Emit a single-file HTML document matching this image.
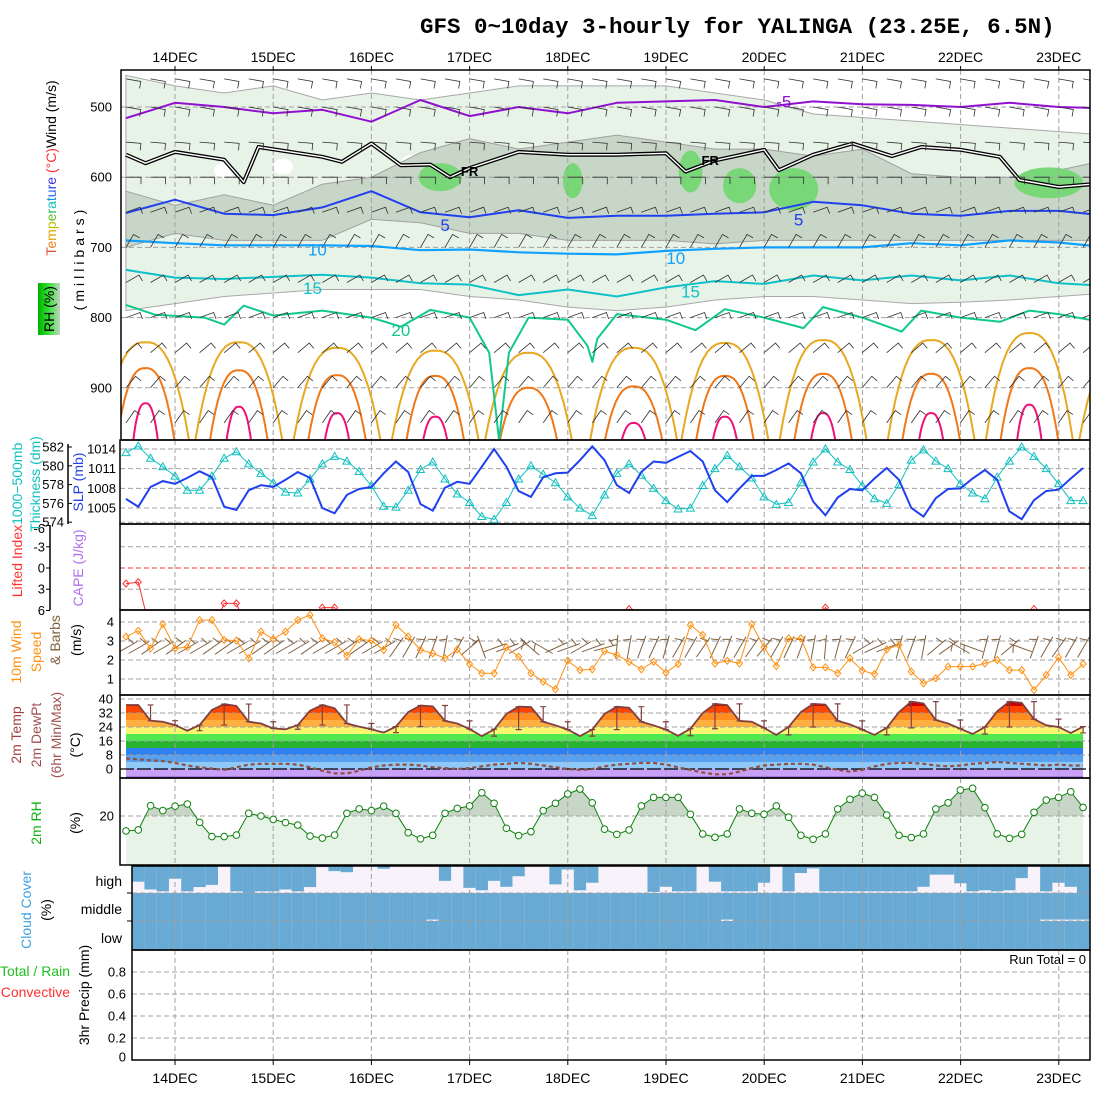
<!DOCTYPE html>
<html><head><meta charset="utf-8"><title>GFS meteogram YALINGA</title>
<style>
html,body{margin:0;padding:0;background:#fff;}
svg{display:block;font-family:"Liberation Sans",sans-serif;}
.tk{font-size:13px;fill:#000;}
.lab{font-size:14px;}
</style></head>
<body>
<svg id="chart" width="1100" height="1100" viewBox="0 0 1100 1100" xmlns="http://www.w3.org/2000/svg">
<defs>
<clipPath id="clipTop"><rect x="121" y="70" width="969" height="370"/></clipPath>
<clipPath id="clipSlp"><rect x="120" y="440" width="970" height="84"/></clipPath>
<clipPath id="clipLi"><rect x="120" y="524" width="970" height="86"/></clipPath>
<clipPath id="clipWind"><rect x="120" y="610" width="970" height="85"/></clipPath>
<clipPath id="clipCloud"><rect x="132" y="866" width="958" height="84"/></clipPath>
<clipPath id="clipTempArea"><path id="tempAreaPath" d=""/></clipPath>
<clipPath id="clipRh20"><rect x="120" y="780" width="970" height="36"/></clipPath>
<linearGradient id="rhGrad" x1="0" x2="1" y1="0" y2="0"><stop offset="0" stop-color="#00b000"/><stop offset="0.45" stop-color="#30e030"/><stop offset="1" stop-color="#c0d4c0"/></linearGradient>
</defs>
<rect x="0" y="0" width="1100" height="1100" fill="#fff"/>
<text x="420" y="33" style="font-family:'Liberation Mono',monospace;font-weight:bold;font-size:22.5px" fill="#000">GFS 0~10day 3-hourly for YALINGA (23.25E, 6.5N)</text>

<g id="gTop"></g>
<g id="gSlp"></g>
<g id="gLi"></g>
<g id="gWind"></g>
<g id="gTemp"></g>
<g id="gRh"></g>
<g id="gCloud"></g>
<g id="gPrecip"></g>
<g id="gDates"></g>

<g>
<text class="lab" transform="translate(56,168) rotate(-90)" text-anchor="middle"><tspan fill="#e05030">T</tspan><tspan fill="#f08020">e</tspan><tspan fill="#e0a000">m</tspan><tspan fill="#c0c000">p</tspan><tspan fill="#60c020">e</tspan><tspan fill="#20c060">r</tspan><tspan fill="#10c0c0">a</tspan><tspan fill="#1090e0">t</tspan><tspan fill="#2060f0">u</tspan><tspan fill="#3040f0">r</tspan><tspan fill="#4030e0">e</tspan><tspan fill="#ff3030"> (°C)</tspan><tspan fill="#000">Wind (m/s)</tspan></text>
<text class="lab" transform="translate(84,258) rotate(-90)" text-anchor="middle" fill="#000" letter-spacing="4">(millibars)</text>
<rect x="38" y="283" width="22" height="52" fill="url(#rhGrad)"/>
<text class="lab" transform="translate(54,309) rotate(-90)" text-anchor="middle" fill="#000">RH (%)</text>
</g>
<g>
<text class="lab" transform="translate(22,520) rotate(-90)" text-anchor="middle"><tspan fill="#ff3030">Lifted Index</tspan><tspan fill="#10c0c0">1000−500mb</tspan></text>
<text class="lab" transform="translate(40,484) rotate(-90)" text-anchor="middle" fill="#10c0c0">Thickness (dm)</text>
<text class="lab" transform="translate(83,482) rotate(-90)" text-anchor="middle" fill="#2040f0">SLP (mb)</text>
<text class="lab" transform="translate(83,568) rotate(-90)" text-anchor="middle" fill="#b070f0">CAPE (J/kg)</text>
<text class="lab" transform="translate(21,652) rotate(-90)" text-anchor="middle" fill="#ff9010">10m Wind</text>
<text class="lab" transform="translate(41,652) rotate(-90)" text-anchor="middle" fill="#ff9010">Speed</text>
<text class="lab" transform="translate(60,640) rotate(-90)" text-anchor="middle" fill="#806040">&amp; Barbs</text>
<text class="lab" transform="translate(81,640) rotate(-90)" text-anchor="middle" fill="#000">(m/s)</text>
<text class="lab" transform="translate(21,735) rotate(-90)" text-anchor="middle" fill="#a04040">2m Temp</text>
<text class="lab" transform="translate(41,735) rotate(-90)" text-anchor="middle" fill="#a05050">2m DewPt</text>
<text class="lab" transform="translate(61,735) rotate(-90)" text-anchor="middle" fill="#a05050">(6hr Min/Max)</text>
<text class="lab" transform="translate(80,745) rotate(-90)" text-anchor="middle" fill="#000">(°C)</text>
<text class="lab" transform="translate(41,823) rotate(-90)" text-anchor="middle" fill="#10b010">2m RH</text>
<text class="lab" transform="translate(80,823) rotate(-90)" text-anchor="middle" fill="#000">(%)</text>
<text class="lab" transform="translate(31,910) rotate(-90)" text-anchor="middle" fill="#40a0e0">Cloud Cover</text>
<text class="lab" transform="translate(51,910) rotate(-90)" text-anchor="middle" fill="#000">(%)</text>
<text class="tk" x="122" y="886" text-anchor="end" style="font-size:14px">high</text>
<text class="tk" x="122" y="914" text-anchor="end" style="font-size:14px">middle</text>
<text class="tk" x="122" y="943" text-anchor="end" style="font-size:14px">low</text>
<text class="lab" x="70" y="976" text-anchor="end" fill="#20c020">Total / Rain</text>
<text class="lab" x="70" y="997" text-anchor="end" fill="#ff3030">Convective</text>
<text class="lab" transform="translate(89,995) rotate(-90)" text-anchor="middle" fill="#000">3hr Precip (mm)</text>
<text class="tk" x="1086" y="964" text-anchor="end">Run Total = 0</text>
</g>
</svg>

<script>
// ---------- DATA ----------
const dateLabels = ["14DEC","15DEC","16DEC","17DEC","18DEC","19DEC","20DEC","21DEC","22DEC","23DEC"];
const pressureTicks = [500,600,700,800,900];
const slpTicks = [1005,1008,1011,1014];
const thickTicks = [574,576,578,580,582];
const liTicks = [-6,-3,0,3,6];
const windTicks = [1,2,3,4];
const tempTicks = [0,8,16,24,32,40];
const rhTicks = [20];
const precipTicks = [0,0.2,0.4,0.6,0.8];

const slp = [1006.4,1005.2,1008.2,1009.1,1008.7,1009.6,1010.6,1009.7,1005.2,1004.7,1007.7,1008.5,1008.2,1009.3,1010.5,1009.6,1005.0,1004.2,1007.0,1007.9,1008.2,1010.3,1012.1,1010.5,1005.6,1004.6,1008.1,1009.0,1008.7,1011.3,1014.0,1011.3,1007.6,1006.7,1009.7,1010.3,1010.4,1012.3,1014.4,1012.3,1008.5,1007.3,1010.5,1012.1,1011.9,1012.8,1013.7,1012.1,1007.7,1005.9,1008.0,1009.9,1009.9,1010.8,1011.8,1010.3,1006.0,1003.9,1006.6,1007.9,1007.7,1009.5,1011.1,1009.3,1005.0,1003.7,1006.5,1007.9,1008.0,1009.5,1010.8,1009.3,1004.5,1003.3,1006.2,1007.6,1007.8,1009.5,1011.1];
const thickness = [581.4,582.1,580.8,579.9,578.9,577.4,577.4,578.9,580.8,581.5,580.2,579.2,578.2,577.2,577.1,578.6,580.2,581.0,580.5,579.4,577.9,575.7,575.6,577.4,579.6,580.4,578.6,577.0,576.1,574.6,574.3,576.1,578.6,580.0,579.1,578.2,576.7,575.5,574.7,576.9,579.2,580.2,579.0,577.6,576.3,575.4,575.5,577.9,579.7,581.1,579.9,578.7,576.7,575.9,576.1,578.2,580.4,581.8,580.4,579.6,577.9,576.5,576.0,578.0,580.6,581.7,580.5,579.7,578.1,577.1,576.5,578.8,580.5,582.0,581.0,579.7,578.1,576.3,576.3];
const liftedIndex = [2.2,2.0,9,9,9,9,9,9,5.0,5.0,9,9,9,9,9,9,5.6,5.6,9,9,9,9,9,9,9,9,9,9,9,9,9,9,9,9,9,9,9,9,9,9,9,5.8,9,9,9,9,9,9,9,9,9,9,9,9,9,9,9,5.6,9,9,9,9,9,9,9,9,9,9,9,9,9,9,9,9,5.8,9,9,9,9];
const windSpeed = [3.23,3.54,2.61,3.89,2.61,2.67,4.1,4.1,3.05,3.02,2.09,3.49,3.1,3.49,4.1,4.37,3.14,2.93,2.23,3.09,3.02,2.53,3.84,3.23,2.53,2.35,2.09,2.56,1.79,1.3,1.3,2.67,2.17,1.3,0.86,0.46,1.96,1.47,1.51,2.47,2.26,1.91,1.51,1.91,1.33,1.79,3.84,3.32,1.82,1.96,1.82,3.88,2.67,1.68,3.14,3.14,1.61,1.61,1.3,2.09,1.44,1.26,2.56,2.79,1.39,0.77,1.04,1.65,1.65,1.65,1.82,2.0,1.47,1.47,0.42,1.21,2.14,1.21,1.79];
const windDir10 = [-30,-30,-35,-30,-35,-30,-30,-35,-35,-30,-30,-35,-35,-30,-30,-35,-30,-30,-35,-35,-30,-30,-55,-60,-65,-70,-80,-60,-40,-110,-20,-20,-30,-140,-150,-25,-20,-30,-20,-15,-85,-80,-70,-65,-75,-60,-60,-55,-65,-70,-60,-55,-50,-60,-65,-70,-80,-85,-75,-65,-30,-25,-20,-75,-70,-80,-40,-35,-150,-160,-75,-75,-40,-160,-70,-60,-55,-60,-60];
const temp2m = [36.6,36.6,27.6,27.0,25.1,21.9,25.1,33.7,37.1,36.0,27.0,26.0,23.2,22.7,25.1,33.3,36.6,34.7,26.0,24.2,22.7,20.8,24.2,32.5,36.3,35.8,27.5,26.0,22.8,18.8,22.5,31.5,35.6,35.4,27.0,25.0,22.5,18.8,22.5,31.5,35.6,35.0,27.0,25.0,22.5,19.0,23.0,32.0,37.2,36.5,27.5,27.0,23.5,19.5,24.0,32.5,37.2,36.8,27.5,25.5,22.5,19.5,23.5,32.5,38.5,37.5,28.0,26.0,23.0,20.0,24.0,33.0,38.5,37.8,28.5,25.0,24.0,20.6,24.2];
const dewpt2m = [6,5.5,5,4.5,3.5,2,1,0.2,-0.5,1,2.5,3,3,3,2.5,1,-1,-2.5,-2.5,-1,1,2,2.5,2.5,2,1,0.5,0,0.5,1.5,2.5,3,3.5,3,2,1,0,-0.5,0,1.5,2.5,3,3.5,3.5,2.5,1,-0.5,-2,-3,-3,-1.5,0.5,2,2.5,3,3,2.5,1,-0.5,-1.5,-0.5,1.5,3,3.5,3.5,3,2,1.5,2,3,3.5,4,3.5,3,2.5,2,2.5,2,2];
const rh2m = [13.9,14.3,24.2,22.2,24.0,24.9,17.4,11.6,11.6,12.2,21.1,20.0,18.6,17.3,16.3,11.8,11.0,12.2,21.1,22.9,22.2,24.0,21.1,13.2,10.7,12.1,21.1,23.1,24.1,29.5,25.2,15,12,13.6,22.2,25.2,29,31,25.4,14.6,12.5,14.3,24.1,27.6,27.6,27.6,20.7,12.7,11.3,12.7,22.9,21.1,20.7,24.1,19.5,12.1,10.5,12.7,22.9,26.8,29.3,27.6,20.4,12.1,11.2,12.7,22.9,25.4,30.6,31.3,23.4,12.7,10.9,12.5,21.5,26.5,27.6,29.9,23.5];
const cloudHigh = [58,58,87,94,47,94,78,70,0,94,100,94,94,87,94,78,4,19,23,0,0,10,0,0,0,0,55,0,81,90,55,77,38,0,0,68,13,90,62,0,0,0,0,96,77,94,94,0,58,94,94,94,62,0,94,26,9,94,94,94,94,94,94,94,94,77,32,32,64,94,90,94,90,45,0,94,62,77,100];
const cloudMid = [100,100,100,100,100,100,100,100,100,100,100,100,100,100,100,100,100,100,100,100,100,100,100,100,100,95,100,100,100,100,100,100,100,100,100,100,100,100,100,100,100,100,100,100,100,100,100,100,100,95,100,100,100,100,100,100,100,100,100,100,100,100,100,100,100,100,100,100,100,100,100,100,100,100,100,95,95,95,95];
const cloudLow = [100,100,100,100,100,100,100,100,100,100,100,100,100,100,100,100,100,100,100,100,100,100,100,100,100,100,100,100,100,100,100,100,100,100,100,100,100,100,100,100,100,100,100,100,100,100,100,100,100,100,100,100,100,100,100,100,100,100,100,100,100,100,100,100,100,100,100,100,100,100,100,100,100,100,100,100,100,100,100];
const precip = [0,0,0,0,0,0,0,0,0,0,0,0,0,0,0,0,0,0,0,0,0,0,0,0,0,0,0,0,0,0,0,0,0,0,0,0,0,0,0,0,0,0,0,0,0,0,0,0,0,0,0,0,0,0,0,0,0,0,0,0,0,0,0,0,0,0,0,0,0,0,0,0,0,0,0,0,0,0,0];

const t12 = [-0.5,0,0.5,1,1.5,2,2.5,3,3.5,4,4.5,5,5.5,6,6.5,7,7.5,8,8.5,9,9.5];
const isoM5 = [516,494,500,509,504,521,490,513,500,509,494,492,490,500,492,496,497,500,494,500,502];
const iso0T = [-0.5,-0.3,0,0.5,0.7,0.85,1.5,1.7,2.0,2.3,2.6,2.8,3.0,3.5,4.0,4.5,5.0,5.2,5.5,6.0,6.15,6.5,6.9,7.3,7.6,8.0,8.4,8.6,9.0,9.5];
const iso0 = [568,580,564,575,607,557,571,578,552,583,582,600,587,564,568,568,566,592,576,561,590,568,552,570,557,561,571,604,614,608];
const iso5 = [651,632,652,654,643,620,650,657,647,658,655,655,652,650,635,640,652,655,648,648,655];
const iso10 = [690,694,697,697,697,698,704,703,707,709,710,705,702,700,700,700,694,697,690,693,700];
const iso15 = [732,743,745,742,739,743,751,753,768,760,770,757,748,752,740,747,740,747,740,751,755];
const iso20T = [-0.5,-0.2,0.3,0.5,0.7,1.0,1.5,2.0,2.3,2.6,3.0,3.2,3.3,3.4,3.6,4.0,4.2,4.25,4.3,4.5,5.0,5.3,5.6,6.0,6.4,6.6,7.0,7.4,7.6,8.0,8.4,8.7,9.0,9.5];
const iso20 = [782,796,800,810,783,797,790,800,813,789,800,850,975,850,800,803,840,863,830,795,803,818,788,800,815,785,800,820,790,800,806,790,795,808];
const lobeT = [-0.3,0.65,1.65,2.65,3.6,4.67,5.6,6.6,7.7,8.7,9.65];
const lobe25 = [835,835,843,847,850,843,836,832,832,822,845];
const lobe30 = [872,875,882,883,900,898,883,880,880,872,905];
const lobe35 = [922,927,936,941,990,950,941,936,936,924,990];
const rh30Top = [455,470,480,470,490,480,490,480,470,470,470,470,480,490,510,515,520,525,530,535,540];
const rh30Bot = [790,780,770,765,760,760,760,770,775,785,790,785,775,770,770,775,780,778,775,770,765];
const rh50Top = [620,640,625,640,610,600,565,545,560,550,540,550,560,560,570,560,595,600,600,590,575];
const rh50Bot = [700,680,690,690,690,660,665,680,680,690,690,690,695,690,690,690,690,690,690,690,690];
const rh70T = [2.7,4.05,5.25,5.75,6.3,8.9];
const rh70P = [600,605,592,612,617,608];
const rh70W = [0.22,0.1,0.12,0.17,0.25,0.35];
const rh70H = [20,25,30,25,30,22];
const dryT = [0.5,1.1,2.4];
const dryP = [590,585,580];
const barbLevels = [460,500,550,600,650,700,750,800,850,900,950];
const barbAngle = [10,10,5,0,-20,-60,-30,-20,-40,-50,-55];

// ---------- SCALES ----------
const NS = "http://www.w3.org/2000/svg";
const X = i => 126 + i*12.27;
const XD = d => 175 + d*98.2;
const P = p => 107 + (p-500)*0.702;
const Yslp = v => 449 + (1014-v)*6.56;
const Ythk = v => 447 + (582-v)*9.4;
const Yli = v => 568 + v*7.08;
const Ywind = v => 622 + (4-v)*19;
const Ytemp = v => 769 - v*1.75;
const Yrh = v => 865 - v*2.45;
const Ypr = v => 1060 - v*110;

function mk(tag, attrs, parent){const e=document.createElementNS(NS,tag);for(const k in attrs)e.setAttribute(k,attrs[k]);parent.appendChild(e);return e;}
function pathFrom(xs, ys){let d="";for(let i=0;i<xs.length;i++)d+=(i?"L":"M")+xs[i].toFixed(1)+","+ys[i].toFixed(1);return d;}
function seriesPath(arr, yf){return pathFrom(arr.map((v,i)=>X(i)), arr.map(yf));}

const gTop=document.getElementById('gTop'), gSlp=document.getElementById('gSlp'), gLi=document.getElementById('gLi'), gWind=document.getElementById('gWind'), gTemp=document.getElementById('gTemp'), gRh=document.getElementById('gRh'), gCloud=document.getElementById('gCloud'), gPrecip=document.getElementById('gPrecip'), gDates=document.getElementById('gDates');

function hgrid(g, y, x0, name){const l=mk('line',{x1:x0,x2:1090,y1:y,y2:y,stroke:'#a0a0a0','stroke-dasharray':'5,3','stroke-width':1},g);

}
function vgrid(g, y0, y1){for(let d=0;d<dateLabels.length;d++){const l=mk('line',{x1:XD(d),x2:XD(d),y1:y0,y2:y1,stroke:'#a0a0a0','stroke-dasharray':'5,3','stroke-width':1},g);

}}
function tickLabel(g, x, y, txt, anchor, name){const t=mk('text',{x:x,y:y+4.5,'text-anchor':anchor||'end',class:'tk'},g);t.textContent=txt;

}
function frame(g,x,y,w,h,name){const r=mk('rect',{x:x,y:y,width:w,height:h,fill:'none',stroke:'#000','stroke-width':1.5},g);

}

// ---------- TOP PANEL ----------
const cTop = mk('g',{'clip-path':'url(#clipTop)'},gTop);
function band(top, bot){const xs=t12.map(XD), a=pathFrom(xs, top.map(P)); let d=a; for(let i=bot.length-1;i>=0;i--) d+="L"+xs[i].toFixed(1)+","+P(bot[i]).toFixed(1); return d+"Z";}
const pale = mk('path',{d:band(rh30Top,rh30Bot),fill:'#e8f3e8',stroke:'#a8a8a8','stroke-width':1},cTop);


for(let k=0;k<dryT.length;k++){const e=mk('ellipse',{cx:XD(dryT[k]),cy:P(dryP[k]),rx:10,ry:8,fill:'#fff'},cTop);

}
const dark = mk('path',{d:band(rh50Top,rh50Bot),fill:'#c8d6c8',stroke:'#a0a0a0','stroke-width':1},cTop);


for(let k=0;k<rh70T.length;k++){const e=mk('ellipse',{cx:XD(rh70T[k]),cy:P(rh70P[k]),rx:rh70W[k]*98.2,ry:rh70H[k]*0.702,fill:'#78d878'},cTop);

}
pressureTicks.forEach(p=>hgrid(cTop,P(p),121,'pressure-gridline'));
vgrid(cTop,70,440);
function iso(ts, ps, color, w, name){const pth=mk('path',{d:pathFrom(ts.map(XD),ps.map(P)),fill:'none',stroke:color,'stroke-width':w,'stroke-linejoin':'round'},cTop);

return pth;}
function lobes(tops, hw, color, name){for(let k=0;k<lobeT.length;k++){if(tops[k]>975)continue;const xs=[],ys=[];for(let u=-1;u<=1.001;u+=0.1){xs.push(XD(lobeT[k]+u*hw));ys.push(P(tops[k]+(980-tops[k])*Math.pow(Math.abs(u),2.6)));}
const pth=mk('path',{d:pathFrom(xs,ys),fill:'none',stroke:color,'stroke-width':2},cTop);

}}
lobes(lobe25,0.45,'#e8a820','isotherm-25');
lobes(lobe30,0.3,'#f07818','isotherm-30');
lobes(lobe35,0.13,'#f0107a','isotherm-35');
iso(t12,isoM5,'#9010d0',2,'isotherm-minus5');
iso(iso0T,iso0,'#000',4,'freezing-level');
iso(iso0T,iso0,'#fff',1.4,'freezing-level-inner');
iso(t12,iso5,'#2040f0',2,'isotherm-5');
iso(t12,iso10,'#10a0ff',2.2,'isotherm-10');
iso(t12,iso15,'#10c0c8',2,'isotherm-15');
iso(iso20T,iso20,'#10c890',2,'isotherm-20');
for(let l=0;l<barbLevels.length;l++){for(let i=0;i<79;i+=2){const x=X(i),y=P(barbLevels[l]);const a=barbAngle[l]*Math.PI/180;const x2=x+15*Math.cos(a),y2=y+15*Math.sin(a);const b=a+Math.PI/2;
const s=mk('path',{d:`M${x.toFixed(1)},${y.toFixed(1)}L${x2.toFixed(1)},${y2.toFixed(1)}L${(x2+7*Math.cos(b)).toFixed(1)},${(y2+7*Math.sin(b)).toFixed(1)}`,fill:'none',stroke:'#303030','stroke-width':0.8},cTop);

}}
const isoLabels=[["-5",6.2,492,'#9010d0'],["FR",3.0,590,'#000'],["FR",5.45,574,'#000'],["5",2.75,668,'#2040f0'],["5",6.35,660,'#2040f0'],["10",1.45,703,'#10a0ff'],["10",5.1,715,'#10a0ff'],["15",1.4,758,'#10c0c8'],["15",5.25,763,'#10c0c8'],["20",2.3,818,'#10c890']];
isoLabels.forEach(L=>{const t=mk('text',{x:XD(L[1]),y:P(L[2])+6,'text-anchor':'middle',fill:L[3],style:'font-size:'+(L[0]==='FR'?'13px;font-weight:bold':'17px')},cTop);t.textContent=L[0];

});
pressureTicks.forEach(p=>tickLabel(gTop,112,P(p),String(p),'end','pressure-tick-label'));
frame(gTop,121,70,969,370,'upper-air-frame');

// ---------- SLP / THICKNESS ----------
slpTicks.forEach(v=>hgrid(gSlp,Yslp(v),120,'slp-gridline'));
hgrid(gSlp,Ythk(574),120,'thickness-gridline');
vgrid(gSlp,440,524);
const cS=mk('g',{'clip-path':'url(#clipSlp)'},gSlp);
const thk=mk('path',{d:seriesPath(thickness,Ythk),fill:'none',stroke:'#10c0c0','stroke-width':1},cS);


thickness.forEach((v,i)=>{const x=X(i),y=Ythk(v);const m=mk('path',{d:`M${x},${y-4}L${x+4},${y+3}L${x-4},${y+3}Z`,fill:'none',stroke:'#10c0c0'},cS);

});
const sl=mk('path',{d:seriesPath(slp,Yslp),fill:'none',stroke:'#2040f0','stroke-width':2},cS);


slpTicks.forEach(v=>tickLabel(gSlp,116,Yslp(v),String(v),'end','slp-tick-label'));
thickTicks.forEach(v=>{tickLabel(gSlp,64,Ythk(v),String(v),'end','thickness-tick-label');const t=mk('line',{x1:68,x2:72,y1:Ythk(v),y2:Ythk(v),stroke:'#000'},gSlp);

});
const ta=mk('line',{x1:68,x2:68,y1:444,y2:524,stroke:'#000','stroke-width':1.5},gSlp);


frame(gSlp,120,440,970,84,'slp-frame');

// ---------- LI / CAPE ----------
[-3,3].forEach(v=>hgrid(gLi,Yli(v),120,'li-gridline'));
const z=mk('line',{x1:120,x2:1090,y1:Yli(0),y2:Yli(0),stroke:'#ff3030','stroke-dasharray':'5,3'},gLi);


vgrid(gLi,524,610);
const cL=mk('g',{'clip-path':'url(#clipLi)'},gLi);
const li=mk('path',{d:seriesPath(liftedIndex,Yli),fill:'none',stroke:'#ff3030','stroke-width':1},cL);


liftedIndex.forEach((v,i)=>{const x=X(i),y=Yli(v);const m=mk('path',{d:`M${x},${y-3.5}L${x+3},${y}L${x},${y+3.5}L${x-3},${y}Z`,fill:'none',stroke:'#ff3030'},cL);

});
liTicks.forEach(v=>{tickLabel(gLi,45,Yli(v)+(v===-6?3:0),String(v),'end','li-tick-label');const t=mk('line',{x1:46,x2:50,y1:Yli(v),y2:Yli(v),stroke:'#000'},gLi);

});
const la=mk('line',{x1:50,x2:50,y1:525,y2:610,stroke:'#000','stroke-width':1.5},gLi);


frame(gLi,120,524,970,86,'li-frame');

// ---------- WIND 10m ----------
windTicks.forEach(v=>hgrid(gWind,Ywind(v),120,'wind-gridline'));
vgrid(gWind,610,695);
const cW=mk('g',{'clip-path':'url(#clipWind)'},gWind);
windDir10.forEach((a0,i)=>{const a=a0*Math.PI/180,x=X(i),y=648;const x1=x-11*Math.cos(a),y1=y-11*Math.sin(a),x2=x+13*Math.cos(a),y2=y+13*Math.sin(a);const b=a-Math.PI*0.6;
const s=mk('path',{d:`M${x1.toFixed(1)},${y1.toFixed(1)}L${x2.toFixed(1)},${y2.toFixed(1)}M${(x2-4*Math.cos(a)).toFixed(1)},${(y2-4*Math.sin(a)).toFixed(1)}L${(x2-4*Math.cos(a)+8*Math.cos(b)).toFixed(1)},${(y2-4*Math.sin(a)+8*Math.sin(b)).toFixed(1)}`,fill:'none',stroke:'#806040','stroke-width':1},cW);

});
const ws=mk('path',{d:seriesPath(windSpeed,Ywind),fill:'none',stroke:'#ff9010','stroke-width':1},cW);


windSpeed.forEach((v,i)=>{const x=X(i),y=Ywind(v);const m=mk('path',{d:`M${x},${y-3.5}L${x+3},${y}L${x},${y+3.5}L${x-3},${y}Z`,fill:'none',stroke:'#ff9010'},cW);

});
windTicks.forEach(v=>tickLabel(gWind,114,Ywind(v),String(v),'end','wind-tick-label'));
frame(gWind,120,610,970,85,'wind-frame');

// ---------- TEMPERATURE ----------
const bandEdges=[-6,-4,0,4,8,12,16,20,24,28,32,36,44];
const bandColors=['#a878e8','#c8a0f8','#90c8f8','#58a0f0','#2f80f0','#28b430','#50e850','#f8f870','#ffb040','#ff8c20','#ff4400','#c80000'];
const areaD=seriesPath(temp2m,Ytemp)+`L${X(temp2m.length-1)},778L${X(0)},778Z`;
document.getElementById('tempAreaPath').setAttribute('d',areaD);
const cT=mk('g',{'clip-path':'url(#clipTempArea)'},gTemp);
for(let k=0;k<bandColors.length;k++){const r=mk('rect',{x:120,width:970,y:Ytemp(bandEdges[k+1]),height:Ytemp(bandEdges[k])-Ytemp(bandEdges[k+1]),fill:bandColors[k]},cT);

}
tempTicks.filter(v=>v>0).forEach(v=>hgrid(gTemp,Ytemp(v),120,'temp-gridline'));
vgrid(gTemp,695,778);
const zl=mk('line',{x1:120,x2:1090,y1:Ytemp(0),y2:Ytemp(0),stroke:'#000','stroke-width':1.2,'stroke-dasharray':'14,3'},gTemp);


const tl=mk('path',{d:seriesPath(temp2m,Ytemp),fill:'none',stroke:'#804040','stroke-width':1.8},gTemp);


const dl=mk('path',{d:seriesPath(dewpt2m,Ytemp),fill:'none',stroke:'#905040','stroke-width':2.2,'stroke-dasharray':'4,3'},gTemp);


for(let i=2;i<temp2m.length;i+=2){const w=temp2m.slice(i-2,i+1);const lo=Math.min(...w),hi=Math.max(...w);const x=X(i);
const e=mk('path',{d:`M${x},${Ytemp(hi)}L${x},${Ytemp(lo)}M${x-3},${Ytemp(hi)}L${x+3},${Ytemp(hi)}M${x-3},${Ytemp(lo)}L${x+3},${Ytemp(lo)}`,stroke:'#804040','stroke-width':1.2,fill:'none'},gTemp);

}
tempTicks.forEach(v=>tickLabel(gTemp,113,Ytemp(v),String(v),'end','temp-tick-label'));
frame(gTemp,120,695,970,83,'temp-frame');

// ---------- RH ----------
const rhArea=seriesPath(rh2m,Yrh)+`L${X(rh2m.length-1)},865L${X(0)},865Z`;
const ra=mk('path',{d:rhArea,fill:'#e8f3e8'},gRh);


const rb=mk('path',{d:rhArea,fill:'#c8d6c8','clip-path':'url(#clipRh20)'},gRh);


rhTicks.forEach(v=>hgrid(gRh,Yrh(v),120,'rh-gridline'));
vgrid(gRh,778,865);
const rl=mk('path',{d:seriesPath(rh2m,Yrh),fill:'none',stroke:'#108010','stroke-width':1},gRh);


rh2m.forEach((v,i)=>{const c=mk('circle',{cx:X(i),cy:Yrh(v),r:3.3,fill:'#fff',stroke:'#108010'},gRh);

});
rhTicks.forEach(v=>tickLabel(gRh,114,Yrh(v),String(v),'end','rh-tick-label'));
frame(gRh,120,778,970,87,'rh-frame');

// ---------- CLOUD ----------
const cC=mk('g',{'clip-path':'url(#clipCloud)'},gCloud);
const rows=[[cloudHigh,866,893],[cloudMid,893,921],[cloudLow,921,950]];
rows.forEach((r,ri)=>{r[0].forEach((v,i)=>{const x0=X(i)-6.14,h=r[2]-r[1];
const bg=mk('rect',{x:x0,y:r[1],width:12.5,height:h,fill:'#f8f3fa'},cC);


const b=mk('rect',{x:x0,y:r[1],width:12.5,height:h*v/100,fill:'#68aad4'},cC);

});});
[893,921].forEach(y=>hgrid(gCloud,y,132,'cloud-gridline'));
vgrid(gCloud,866,950);
[893,921].forEach(y=>{const t=mk('line',{x1:127,x2:132,y1:y,y2:y,stroke:'#000'},gCloud);

});
frame(gCloud,132,866,958,84,'cloud-frame');

// ---------- PRECIP ----------
precipTicks.filter(v=>v>0).forEach(v=>hgrid(gPrecip,Ypr(v),132,'precip-gridline'));
vgrid(gPrecip,950,1060);
precip.forEach((v,i)=>{if(v<=0)return;const b=mk('rect',{x:X(i)-5,y:Ypr(v),width:10,height:1060-Ypr(v),fill:'#20c020'},gPrecip);

});
precipTicks.forEach(v=>tickLabel(gPrecip,126,Ypr(v)-(v===0?3:0),v===0?'0':String(v),'end','precip-tick-label'));
frame(gPrecip,132,950,958,110,'precip-frame');

// ---------- DATES ----------
dateLabels.forEach((s,d)=>{
const t1=mk('text',{x:XD(d),y:62,'text-anchor':'middle',class:'tk',style:'font-size:14px'},gDates);t1.textContent=s;


const t2=mk('text',{x:XD(d),y:1083,'text-anchor':'middle',class:'tk',style:'font-size:14px'},gDates);t2.textContent=s;


const k1=mk('line',{x1:XD(d),x2:XD(d),y1:66,y2:70,stroke:'#000'},gDates);


const k2=mk('line',{x1:XD(d),x2:XD(d),y1:1060,y2:1065,stroke:'#000'},gDates);

});
</script>
</body></html>
